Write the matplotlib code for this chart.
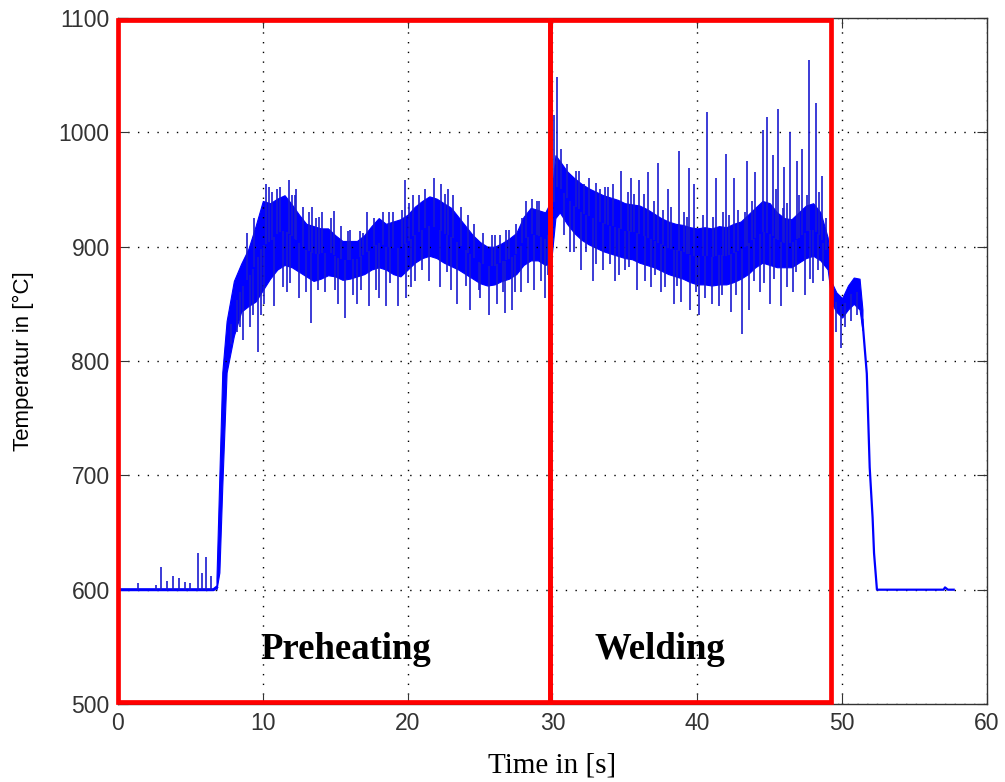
import numpy as np
import matplotlib.pyplot as plt

# flat start / fall-off (plain line parts)
pre_t = [0.0, 1.0, 2.0, 3.0, 4.0, 5.0, 6.0, 6.6, 6.8]
pre_v = [600, 600, 600, 600, 600, 600, 600, 600, 602]
post_t = [51.4, 51.5, 51.7, 51.8, 51.9, 52.1, 52.2, 52.4, 55.0, 57.0, 57.1, 57.3, 57.7]
post_v = [836, 820, 789, 748, 707, 663, 632, 600, 600, 600, 602, 600, 600]

# dense noisy band (lower / upper envelope)
band_t = [6.8, 7.0, 7.2, 7.5, 8.0, 8.5, 9.0, 9.5, 10.0, 10.5, 11.0, 11.5, 12.0, 12.5,
          13.0, 13.5, 14.0, 14.5, 15.0, 15.5, 16.0, 16.5, 17.0, 17.5, 18.0, 18.5,
          19.0, 19.5, 20.0, 20.5, 21.0, 21.5, 22.0, 22.5, 23.0, 23.5, 24.0, 24.5,
          25.0, 25.5, 26.0, 26.5, 27.0, 27.5, 28.0, 28.5, 29.0, 29.5, 29.9, 30.2,
          30.5, 31.0, 31.5, 32.0, 32.5, 33.0, 33.5, 34.0, 34.5, 35.0, 35.5, 36.0,
          36.5, 37.0, 37.5, 38.0, 38.5, 39.0, 39.5, 40.0, 40.5, 41.0, 41.5, 42.0,
          42.5, 43.0, 43.5, 44.0, 44.5, 45.0, 45.5, 46.0, 46.5, 47.0, 47.5, 48.0,
          48.5, 49.0, 49.3, 49.6, 50.0, 50.4, 50.8, 51.2, 51.4]
band_lo = [600, 615, 690, 790, 822, 843, 848, 852, 862, 872, 880, 884, 882, 878,
           874, 870, 872, 875, 874, 871, 872, 874, 876, 880, 882, 880,
           876, 874, 880, 886, 890, 892, 890, 886, 883, 880, 876, 872,
           868, 866, 867, 870, 872, 876, 884, 888, 888, 884, 886, 925,
           930, 920, 912, 906, 902, 899, 896, 894, 892, 890, 889, 886,
           884, 882, 879, 876, 874, 872, 869, 867, 867, 866, 867, 867,
           869, 872, 876, 882, 886, 884, 882, 882, 882, 886, 890, 892,
           888, 880, 850, 843, 838, 845, 850, 845, 827]
band_hi = [610, 700, 790, 835, 870, 885, 898, 918, 940, 938, 942, 945, 937, 928,
           920, 918, 916, 916, 910, 905, 905, 905, 910, 918, 925, 920,
           922, 924, 928, 935, 940, 944, 942, 938, 934, 926, 918, 910,
           904, 900, 900, 903, 907, 912, 926, 934, 932, 930, 940, 980,
           975, 966, 960, 955, 951, 948, 945, 943, 941, 938, 937, 936,
           933, 929, 925, 922, 920, 919, 917, 916, 917, 916, 918, 917,
           920, 922, 928, 934, 940, 938, 930, 925, 924, 930, 936, 938,
           930, 908, 868, 860, 855, 866, 873, 872, 845]

# isolated spikes sticking out of the band
spike_t = [1.4, 2.6, 3.0, 3.4, 3.8, 4.2, 4.6, 5.0, 5.5, 5.8, 6.1, 6.4,
           7.8, 8.2, 8.6, 9.1, 9.7, 9.9,
           10.2, 10.6, 11.2, 11.8, 12.3, 13.4, 14.1, 14.9, 17.2, 19.8, 20.4, 21.2,
           21.8, 22.3, 22.8, 24.2, 26.8, 28.2, 28.6,
           10.8, 11.7, 12.5, 13.3, 14.3, 15.2, 15.7, 16.5, 17.3, 18.0, 18.5, 19.3,
           19.9, 20.5, 21.5, 22.2, 23.4, 24.3, 24.9, 25.6, 26.2, 26.7, 27.2, 27.8,
           28.7, 29.5,
           30.1, 30.3, 30.6, 31.0, 32.2, 33.3, 34.2, 34.7, 35.4, 36.0, 36.6, 37.3,
           38.0, 38.7, 39.4, 39.8, 40.7, 41.3, 42.0, 42.5, 43.4, 44.0, 44.5, 44.8,
           45.2, 45.6, 46.0, 46.4, 46.9, 47.2, 47.7, 48.2, 48.6,
           30.8, 31.5, 32.0, 32.8, 33.5, 34.3, 35.0, 35.8, 36.8, 37.5, 38.4, 38.9,
           39.5, 40.1, 41.0, 41.5, 42.3, 43.1, 43.6, 44.3, 45.0, 45.8, 46.6, 47.4,
           48.0, 48.7,
           49.6, 49.9, 50.2, 51.0,
           # smaller texture spikes
           8.9, 9.4, 10.4, 11.0, 12.0, 12.8, 13.7, 15.4, 16.0, 16.9, 17.7, 18.3,
           19.0, 20.1, 20.8, 23.1, 23.7, 25.2, 26.0, 27.0, 27.5, 29.1,
           31.8, 32.5, 33.0, 33.8, 35.2, 36.3, 37.0, 38.2, 39.1, 40.4, 41.8, 42.8,
           43.8, 45.4, 46.2, 47.0, 48.4, 48.9,
           9.3, 10.1, 11.4, 13.0, 16.2, 17.8, 20.2, 23.0, 25.0, 27.4, 29.2,
           31.2, 33.0, 34.6, 36.4, 37.8, 40.5, 42.7, 44.6, 46.2, 47.8,
           # edge roughness
           12.2, 13.2, 13.9, 14.7, 15.9, 16.7, 18.7, 19.6, 22.6, 24.6, 25.8, 26.4,
           27.9, 28.9, 31.6, 33.6, 35.6, 37.6, 39.3, 41.1, 42.2, 43.3, 45.9, 47.6,
           8.4, 11.9, 13.8, 15.0, 16.8, 18.8, 21.0, 22.7, 24.0, 26.6, 28.3, 29.7,
           32.3, 34.0, 35.3, 37.1, 38.6, 39.9, 41.7, 43.9, 45.3, 46.8, 48.3, 50.6]
spike_v = [606, 604, 620, 608, 612, 610, 607, 606, 632, 615, 629, 612,
           815, 825, 818, 830, 808, 840,
           955, 948, 952, 958, 950, 935, 930, 931, 930, 958, 945, 950,
           960, 955, 950, 928, 915, 940, 942,
           848, 860, 855, 833, 860, 850, 838, 850, 848, 855, 848, 848,
           855, 870, 870, 865, 850, 845, 862, 840, 850, 842, 845, 860,
           862, 855,
           1015, 1048, 985, 972, 955, 950, 955, 966, 960, 958, 965, 973,
           950, 984, 969, 955, 1018, 960, 981, 960, 975, 965, 1002, 1013,
           980, 1020, 970, 1000, 975, 985, 1063, 1026, 962,
           910, 895, 880, 870, 880, 870, 880, 862, 865, 860, 850, 852,
           845, 840, 850, 848, 843, 824, 845, 860, 850, 848, 860, 858,
           868, 870,
           825, 811, 830, 840,
           912, 925, 952, 950, 945, 935, 925, 918, 915, 912, 925, 930,
           930, 938, 945, 945, 935, 912, 910, 915, 920, 940,
           966, 960, 956, 952, 948, 946, 940, 935, 930, 928, 930, 932,
           940, 950, 938, 945, 948, 925,
           840, 850, 865, 860, 858, 862, 865, 862, 855, 860, 870,
           895, 885, 875, 870, 865, 855, 858, 868, 865, 872,
           945, 930, 926, 925, 914, 914, 930, 932, 946, 920, 910, 910,
           925, 940, 966, 952, 946, 932, 926, 926, 928, 930, 934, 945,
           830, 868, 862, 862, 862, 868, 880, 878, 866, 860, 868, 875,
           895, 885, 882, 875, 866, 860, 858, 870, 872, 878, 880, 835]

x_ticks = [0, 10, 20, 30, 40, 50, 60]
y_ticks = [500, 600, 700, 800, 900, 1000, 1100]

# phase boxes: (start, end) in seconds
phases = ["Preheating", "Welding"]
phase_start = [0.0, 29.8]
phase_end = [29.8, 49.2]

fig = plt.figure(figsize=(10.05, 7.82), dpi=100)
ax = fig.add_axes([0.1174, 0.0997, 0.8647, 0.8773])

ax.plot(pre_t, pre_v, color="blue", lw=2.2)
ax.plot(post_t, post_v, color="blue", lw=1.6)
ax.fill_between(band_t, band_lo, band_hi, color="blue", lw=0.8)
base = np.interp(spike_t, band_t, (np.array(band_lo) + np.array(band_hi)) / 2)
base = np.where(np.array(spike_t) < 6.8, 600, base)
ax.vlines(spike_t, base, spike_v, color="#1a1ad0", lw=1.2)

ax.set_xlim(0, 60)
ax.set_ylim(500, 1100)
ax.set_xticks(x_ticks)
ax.set_yticks(y_ticks)
ax.grid(True, color="black", linestyle=(0, (1, 6)), lw=1.0)
ax.tick_params(direction="in", length=7, top=True, right=True, labelsize=16.5,
               colors="#333333", pad=6)
for lab in ax.get_xticklabels() + ax.get_yticklabels():
    lab.set_fontfamily("Liberation Sans")
for sp in ax.spines.values():
    sp.set_color("#333333")
    sp.set_linewidth(1.0)

ax.set_ylabel("Temperatur in [°C]", fontsize=16, family="Liberation Sans", labelpad=18)
ax.set_xlabel("Time in [s]", fontsize=21, family="Liberation Serif", labelpad=12)

for name, s, e in zip(phases, phase_start, phase_end):
    ax.add_patch(plt.Rectangle((s, 502), e - s, 596, fill=False, edgecolor="red",
                               lw=3.4, clip_on=False, zorder=5))
    ax.text((s + e) / 2 + (0.8 if name == "Preheating" else -2.1), 548, name,
            fontsize=26.5, fontweight="bold", family="Liberation Serif",
            ha="center", va="center", zorder=6)

fig.savefig("out.png", dpi=100)
